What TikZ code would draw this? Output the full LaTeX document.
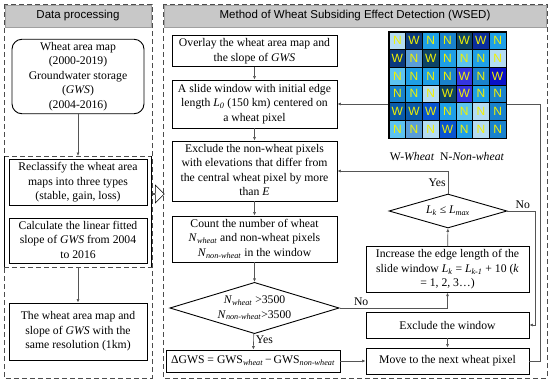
\documentclass[tikz,border=0pt]{standalone}
\usepackage{fontspec}
\setmainfont{Liberation Serif}
\setsansfont{Liberation Sans}
\usepackage{tikz}
\usetikzlibrary{arrows.meta,shapes.geometric,shapes.arrows}
\definecolor{hdrcol}{HTML}{C8C8C8}
\definecolor{linecol}{HTML}{555555}
\definecolor{lettercol}{HTML}{F2F200}
\definecolor{gca}{HTML}{B4DCF2}
\definecolor{gcb}{HTML}{5CC3F0}
\definecolor{gcc}{HTML}{1F9FE6}
\definecolor{gcd}{HTML}{1A82CC}
\definecolor{gce}{HTML}{0B3A7E}
\definecolor{gcf}{HTML}{0B2E9C}
\definecolor{gcg}{HTML}{0D4466}
\definecolor{gch}{HTML}{3535E0}
\definecolor{gci}{HTML}{0A10C8}
\definecolor{gcj}{HTML}{5A9ED8}
\definecolor{gck}{HTML}{0A5AA8}
\definecolor{gcl}{HTML}{0A55D0}
\newcommand{\isub}[2]{\textit{#1}\textsubscript{\textit{#2}}}
\newcommand{\boxlines}[1]{\begin{tabular}{@{}c@{}}#1\end{tabular}}
\tikzset{
  box/.style={draw, line width=0.9pt, inner sep=1pt, font=\fontsize{11.7}{14.5}\selectfont},
  decision/.style={box, diamond, inner sep=0pt},
  hdr/.style={fill=hdrcol, draw=hdrcol!80!black, line width=0.5pt, font=\sffamily\fontsize{11.5}{13}\selectfont},
  flow/.style={draw=linecol, line width=0.6pt, -{Latex[length=3.5pt,width=3pt]}},
  panel/.style={draw=black!70, line width=0.8pt, dash pattern=on 5pt off 3pt},
  cell/.style={draw=black, line width=0.6pt, minimum width=16.71pt, minimum height=17.67pt, inner sep=0pt, text=lettercol, font=\sffamily\fontsize{12}{12}\selectfont},
  lbl/.style={font=\fontsize{11.7}{13}\selectfont, inner sep=2pt}
}
\begin{document}
\begin{tikzpicture}[x=1pt, y=-1pt]
\useasboundingbox (0,0) rectangle (550,381);

\draw[panel] (4,4) rectangle (152,378);
\draw[panel] (163,4) rectangle (547,378);
\draw[panel] (4,156) -- (152,156);
\draw[panel] (4,267) -- (152,267);
\draw[line width=0.8pt] (4,156) -- (4,267);
\draw[line width=0.8pt] (151,156) -- (151,267);

\node[hdr, minimum width=146pt, minimum height=22pt] (hdrL) at (78,16) {Data processing};
\node[hdr, minimum width=382pt, minimum height=22pt] (hdrR) at (355,16) {Method of Wheat Subsiding Effect Detection (WSED)};

\node[box, rounded corners=10pt, minimum width=132pt, minimum height=73pt] (wam) at (78,76.5) {\boxlines{Wheat area map\\(2000-2019)\\Groundwater storage\\(\textit{GWS})\\(2004-2016)}};
\node[box, minimum width=138pt, minimum height=41pt] (recl) at (78,182.5) {\boxlines{Reclassify the wheat area\\maps into three types\\(stable, gain, loss)}};
\node[box, minimum width=138pt, minimum height=42pt] (calc) at (78,241) {\boxlines{Calculate the linear fitted\\slope of \textit{GWS} from 2004\\to 2016}};
\node[box, minimum width=138pt, minimum height=57pt] (same) at (78,331.5) {\boxlines{The wheat area map and\\slope of \textit{GWS} with the\\same resolution (1km)}};
\coordinate (cut1) at (78,156);
\coordinate (cut2) at (78,267);
\draw[flow] (wam.south) -- (cut1);
\draw[flow] (cut2) -- (same.north);
\node[single arrow, draw, line width=0.6pt, fill=white, minimum height=13pt, minimum width=18pt, single arrow head extend=4pt, inner sep=0pt] (pass) at (157.5,194) {};

\node[box, minimum width=165pt, minimum height=28pt] (overlay) at (254.5,51) {\boxlines{Overlay the wheat area map and\\the slope of \textit{GWS}}};
\node[box, minimum width=165pt, minimum height=48pt] (slide) at (254.5,104) {\boxlines{A slide window with initial edge\\length \isub{L}{0} (150 km) centered on\\a wheat pixel}};
\node[box, minimum width=165pt, minimum height=56pt] (excl) at (254.5,171) {\boxlines{Exclude the non-wheat pixels\\with elevations that differ from\\the central wheat pixel by more\\than \textit{E}}};
\node[box, minimum width=165pt, minimum height=46pt] (count) at (254.5,239) {\boxlines{Count the number of wheat\\\isub{N}{wheat} and non-wheat pixels\\\isub{N}{non-wheat} in the window}};
\node[decision, aspect=3.3, minimum width=165pt, minimum height=50pt] (dec1) at (254.5,308) {\boxlines{\isub{N}{wheat} >3500\\\isub{N}{non-wheat}>3500}};
\node[box, minimum width=174pt, minimum height=22pt] (delta) at (253,361) {ΔGWS = GWS\textsubscript{\textit{wheat}}\,−\,GWS\textsubscript{\textit{non-wheat}}};

\node[decision, aspect=3.5, minimum width=118pt, minimum height=34pt] (lk) at (448,211) {\isub{L}{k} ≤ \isub{L}{max}};
\node[box, minimum width=163pt, minimum height=45pt] (incr) at (447.5,269.5) {\boxlines{Increase the edge length of the\\slide window \isub{L}{k} = \isub{L}{k-1} + 10 (\textit{k}\\= 1, 2, 3…)}};
\node[box, minimum width=163pt, minimum height=26pt] (exw) at (447.5,325) {Exclude the window};
\node[box, minimum width=163pt, minimum height=26pt] (move) at (447.5,361) {Move to the next wheat pixel};

\draw[flow] (overlay) -- (slide);
\draw[flow] (slide) -- (excl);
\draw[flow] (excl) -- (count);
\draw[flow] (count) -- (dec1);
\draw[flow] (dec1) -- node[lbl, right, pos=0.4] {Yes} (delta);
\draw[flow] (dec1.east) -| node[lbl, above, pos=0.1] {No} (incr.south);
\draw[flow] (incr) -- (lk);
\draw[flow] (lk.north) |- node[lbl, left, pos=0.25] {Yes} (excl.east);
\draw[flow] (lk.east) -- ++(28,0) node[lbl, above, pos=0.55] {No} |- (exw.east);
\draw[flow] (exw) -- (move);
\draw[flow] (delta.east) -- (move.west);
\draw[flow] (move.east) -- ++(11,0) |- (slide.east);

\foreach \r/\cells in {0/{gca/N,gce/W,gcc/N,gcd/N,gcg/W,gcf/W,gcc/N},
                       1/{gce/W,gcj/N,gcg/W,gcc/N,gcb/N,gcc/N,gca/N},
                       2/{gcb/N,gcc/N,gcc/N,gcd/N,gch/W,gcd/N,gci/W},
                       3/{gcd/N,gcc/N,gca/N,gcg/W,gch/W,gcc/N,gcd/N},
                       4/{gck/W,gck/W,gcl/W,gcc/N,gcb/N,gca/N,gcd/N},
                       5/{gcb/N,gcj/N,gca/N,gcl/W,gcc/N,gca/N,gcd/N}}{
  \foreach \col/\txt [count=\c from 0] in \cells{
    \node[cell, fill=\col] (g\r\c) at ({389+16.71*(\c+0.5)},{32+17.67*(\r+0.5)}) {\txt};
  }
}
\draw[line width=1.2pt] (g00.north west) rectangle (g56.south east);
\node[lbl] (cap) at (447,157) {W-\textit{Wheat}\ \ N-\textit{Non-wheat}};
\end{tikzpicture}
\end{document}
